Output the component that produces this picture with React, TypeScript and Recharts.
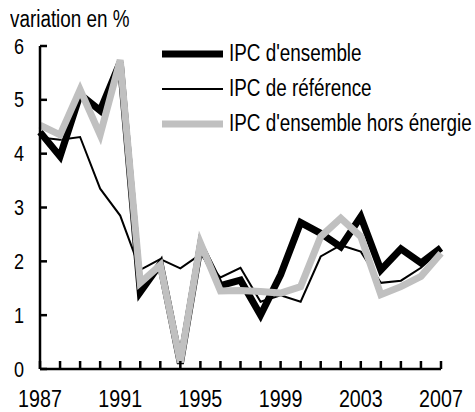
import { LineChart, Line, XAxis, YAxis } from 'recharts';

const years = [1987, 1988, 1989, 1990, 1991, 1992, 1993, 1994, 1995, 1996, 1997, 1998, 1999, 2000, 2001, 2002, 2003, 2004, 2005, 2006, 2007];
const ipcEnsemble = [4.4, 3.95, 5.1, 4.8, 5.7, 1.43, 1.95, 0.1, 2.3, 1.55, 1.65, 1.0, 1.75, 2.72, 2.52, 2.27, 2.83, 1.84, 2.23, 1.97, 2.25];
const ipcReference = [4.3, 4.26, 4.31, 3.35, 2.85, 1.84, 2.04, 1.87, 2.13, 1.7, 1.88, 1.25, 1.37, 1.25, 2.09, 2.3, 2.18, 1.6, 1.64, 1.88, 2.21];
const ipcHorsEnergie = [4.53, 4.35, 5.19, 4.35, 5.74, 1.6, 1.93, 0.12, 2.34, 1.45, 1.46, 1.44, 1.41, 1.53, 2.46, 2.8, 2.46, 1.38, 1.53, 1.72, 2.15];
const yTicks = [0, 1, 2, 3, 4, 5, 6];
const labeledYears = [1987, 1991, 1995, 1999, 2003, 2007];

const series = [
  { key: 'ensemble', name: "IPC d'ensemble", color: '#000000', width: 7 },
  { key: 'reference', name: 'IPC de référence', color: '#000000', width: 2 },
  { key: 'horsEnergie', name: "IPC d'ensemble hors énergie", color: '#c0c0c0', width: 7 },
];

const data = years.map((year, i) => ({
  year,
  ensemble: ipcEnsemble[i],
  reference: ipcReference[i],
  horsEnergie: ipcHorsEnergie[i],
}));

// no narrow font installed: squeeze Liberation Sans horizontally
const FONT = "'Liberation Sans', Arial, sans-serif";
const SQUEEZE = 0.82;

function YTick(props: any) {
  const { x, y, payload } = props;
  return (
    <g>
      <line x1={x} x2={x + 7} y1={y} y2={y} stroke="#000" strokeWidth={2.5} />
      <g transform={`translate(${x - 16} ${y}) scale(${SQUEEZE} 1)`}>
        <text x={0} y={0} textAnchor="end" dominantBaseline="central" fontFamily={FONT} fontSize={22} fill="#000">
          {payload.value}
        </text>
      </g>
    </g>
  );
}

function XTick(props: any) {
  const { x, y, payload } = props;
  return (
    <g>
      <line x1={x} x2={x} y1={y - 8} y2={y} stroke="#000" strokeWidth={2.5} />
      {labeledYears.includes(payload.value) && (
        <g transform={`translate(${x} ${y + 30}) scale(${SQUEEZE} 1)`}>
          <text x={0} y={0} textAnchor="middle" dominantBaseline="central" fontFamily={FONT} fontSize={24} fill="#000">
            {payload.value}
          </text>
        </g>
      )}
    </g>
  );
}

const squeezed = {
  fontFamily: FONT,
  fontSize: 23,
  whiteSpace: 'nowrap' as const,
  transform: `scaleX(${SQUEEZE})`,
  transformOrigin: 'left center',
  display: 'inline-block',
};

function LegendBox() {
  return (
    <div style={{ position: 'absolute', left: 162, top: 36 }}>
      {series.map((s) => (
        <div key={s.key} style={{ display: 'flex', alignItems: 'center', height: 35 }}>
          <svg width={61} height={10} style={{ marginRight: 6, flex: 'none' }}>
            <line x1={0} x2={61} y1={5} y2={5} stroke={s.color} strokeWidth={s.width} />
          </svg>
          <span style={squeezed}>{s.name}</span>
        </div>
      ))}
    </div>
  );
}

export default function App() {
  return (
    <div style={{ position: 'absolute', left: 0, top: 0, width: 475, height: 412, background: '#fff', overflow: 'hidden' }}>
      <LineChart width={475} height={412} data={data} margin={{ top: 46, right: 34, left: 0, bottom: 0 }}>
        <XAxis
          dataKey="year"
          interval={0}
          tickSize={0}
          tickMargin={0}
          height={43}
          axisLine={{ stroke: '#000', strokeWidth: 2.5 }}
          tick={<XTick />}
        />
        <YAxis
          domain={[0, 6]}
          ticks={yTicks}
          width={40}
          tickSize={0}
          tickMargin={0}
          axisLine={{ stroke: '#000', strokeWidth: 2.5 }}
          tick={<YTick />}
        />
        {series.map((s) => (
          <Line
            key={s.key}
            type="linear"
            dataKey={s.key}
            name={s.name}
            stroke={s.color}
            strokeWidth={s.width}
            strokeLinejoin="miter"
            dot={false}
            activeDot={false}
            isAnimationActive={false}
          />
        ))}
      </LineChart>
      <div style={{ position: 'absolute', left: 10, top: 6, lineHeight: '26px' }}>
        <span style={squeezed}>variation en %</span>
      </div>
      <LegendBox />
    </div>
  );
}
